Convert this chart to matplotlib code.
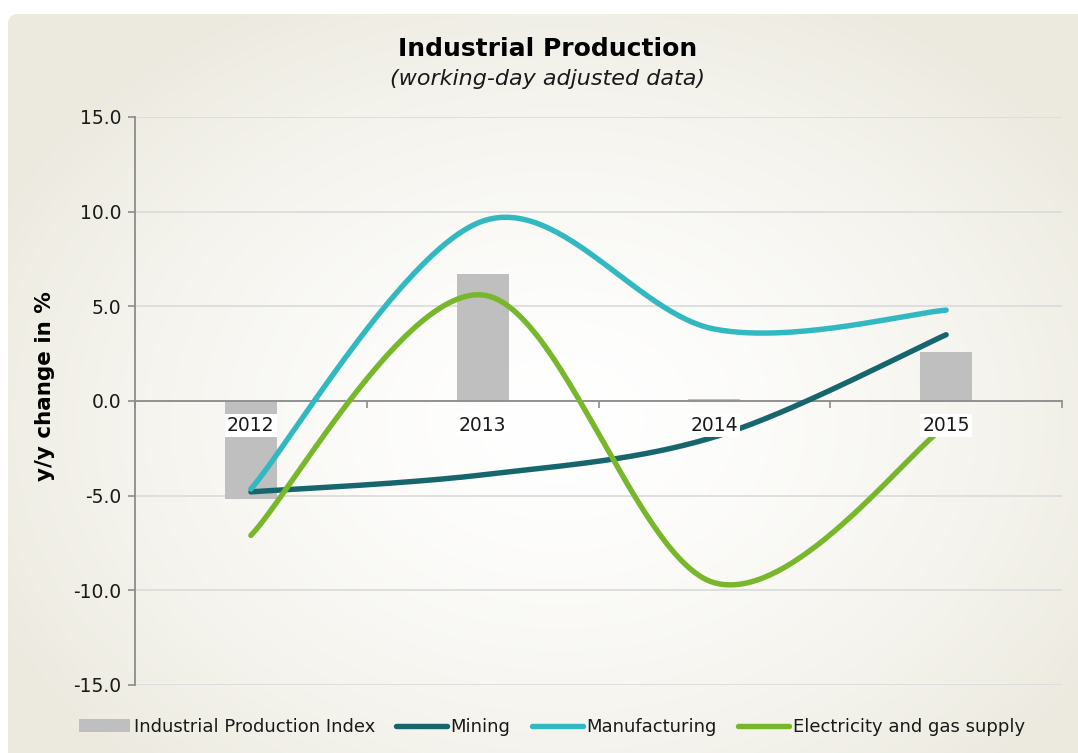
import numpy as np
import matplotlib
matplotlib.use("Agg")
import matplotlib.pyplot as plt
from matplotlib.patches import FancyBboxPatch
from matplotlib.lines import Line2D
from matplotlib.patches import Patch

# --- data -------------------------------------------------------------
years = ["2012", "2013", "2014", "2015"]
index_values = [-5.2, 6.7, 0.1, 2.6]            # Industrial Production Index
mining = [-4.8, -3.9, -1.9, 3.5]
manufacturing = [-4.65, 9.5, 3.8, 4.8]
electricity = [-7.1, 5.6, -9.6, -1.3]

y_ticks = [-15.0, -10.0, -5.0, 0.0, 5.0, 10.0, 15.0]

# --- style -------------------------------------------------------------
C_BAR = "#BFBFBF"
C_MIN = "#17666E"
C_MAN = "#32B8C1"
C_ELE = "#78B72B"
C_AXIS = "#8C8C8C"
C_GRID = "#DCDCDC"
LW = 3.9

W, H, DPI = 1078, 753, 100
plt.rcParams["font.family"] = ["DejaVu Sans"]


def smooth(xs, ys, n=60):
    """Bezier smoothing through every point (Catmull-Rom style tangents)."""
    xs = np.asarray(xs, float)
    ys = np.asarray(ys, float)
    px = np.concatenate([[xs[0]], xs, [xs[-1]]])
    py = np.concatenate([[ys[0]], ys, [ys[-1]]])
    out_x, out_y = [], []
    t = np.linspace(0, 1, n)
    for i in range(1, len(px) - 2):
        p0 = np.array([px[i], py[i]])
        p3 = np.array([px[i + 1], py[i + 1]])
        c1 = p0 + (np.array([px[i + 1], py[i + 1]]) - np.array([px[i - 1], py[i - 1]])) / 6
        c2 = p3 - (np.array([px[i + 2], py[i + 2]]) - np.array([px[i], py[i]])) / 6
        b = ((1 - t) ** 3)[:, None] * p0 + (3 * (1 - t) ** 2 * t)[:, None] * c1 \
            + (3 * (1 - t) * t ** 2)[:, None] * c2 + (t ** 3)[:, None] * p3
        out_x.append(b[:, 0] if i == 1 else b[1:, 0])
        out_y.append(b[:, 1] if i == 1 else b[1:, 1])
    return np.concatenate(out_x), np.concatenate(out_y)


fig = plt.figure(figsize=(W / DPI, H / DPI), dpi=DPI, facecolor="white")

# radial background panel with a rounded corner
bg = fig.add_axes([0, 0, 1, 1], zorder=-10)
bg.set_xlim(0, W)
bg.set_ylim(H, 0)
bg.axis("off")
gx, gy = np.meshgrid(np.arange(W), np.arange(H))
r = np.sqrt(((gx - 560) / 640.0) ** 2 + ((gy - 420) / 480.0) ** 2)
f = np.clip(r, 0, 1) ** 1.5
edge = np.array([236, 234, 223]) / 255.0
img = (1 - f)[..., None] * np.ones(3) + f[..., None] * edge
im = bg.imshow(img, extent=(0, W, H, 0), interpolation="bilinear", aspect="auto")
panel = FancyBboxPatch((8, 14), W + 30, H + 30,
                       boxstyle="round,pad=0,rounding_size=10",
                       transform=bg.transData, facecolor="none", edgecolor="none")
bg.add_patch(panel)
im.set_clip_path(panel)

# --- main axes ---------------------------------------------------------
ax = fig.add_axes([135 / W, 1 - 685 / H, (1062 - 135) / W, (685 - 117) / H])
ax.patch.set_alpha(0)

x = np.arange(len(years)) + 0.5
ax.bar(x, index_values, width=0.225, color=C_BAR, zorder=2)

for vals, col in [(mining, C_MIN), (manufacturing, C_MAN), (electricity, C_ELE)]:
    sx, sy = smooth(x, vals)
    ax.plot(sx, sy, color=col, lw=LW, solid_capstyle="round", zorder=3)

ax.set_xlim(0, len(years))
ax.set_ylim(-15, 15)
ax.set_yticks(y_ticks)
ax.set_yticklabels([f"{v:.1f}" for v in y_ticks], fontsize=13.5, color="#1a1a1a")
ax.yaxis.grid(True, color=C_GRID, lw=1.3, zorder=0)
ax.set_axisbelow(True)

for s in ("top", "right"):
    ax.spines[s].set_visible(False)
ax.spines["left"].set_color(C_AXIS)
ax.spines["left"].set_linewidth(1.3)
ax.spines["bottom"].set_position(("data", 0))
ax.spines["bottom"].set_color(C_AXIS)
ax.spines["bottom"].set_linewidth(1.3)
ax.spines["bottom"].set_zorder(2.6)
ax.tick_params(axis="y", direction="out", length=5, color=C_AXIS, width=1.2, pad=5)

# category boundaries as major ticks, year labels centred as minor ticks
ax.set_xticks(np.arange(len(years) + 1))
ax.set_xticklabels([])
ax.tick_params(axis="x", which="major", direction="out", length=5, color=C_AXIS, width=1.2)
ax.set_xticks(x, minor=True)
ax.set_xticklabels(years, minor=True, fontsize=13.5, color="#1a1a1a")
ax.tick_params(axis="x", which="minor", length=0, pad=11)
for lbl in ax.get_xticklabels(minor=True):
    lbl.set_bbox(dict(facecolor="white", edgecolor="none", pad=1.5))
ax.xaxis.set_zorder(5)

# --- titles ------------------------------------------------------------
fig.text(548 / W, 1 - 49 / H, "Industrial Production", ha="center", va="center",
         fontsize=18, fontweight="bold", color="black")
fig.text(548 / W, 1 - 79 / H, "(working-day adjusted data)", ha="center", va="center",
         fontsize=16, style="italic", color="#1a1a1a")
fig.text(45 / W, 1 - 386 / H, "y/y change in %", ha="center", va="center",
         rotation=90, fontsize=15.5, fontweight="bold", color="black")

# --- legend ------------------------------------------------------------
handles = [Patch(facecolor=C_BAR, edgecolor="none"),
           Line2D([], [], color=C_MIN, lw=LW, solid_capstyle="round"),
           Line2D([], [], color=C_MAN, lw=LW, solid_capstyle="round"),
           Line2D([], [], color=C_ELE, lw=LW, solid_capstyle="round")]
labels = ["Industrial Production Index", "Mining", "Manufacturing",
          "Electricity and gas supply"]
fig.legend(handles, labels, loc="center", bbox_to_anchor=(552 / W, 1 - 727 / H),
           ncol=4, frameon=False, fontsize=13, handlelength=2.8,
           handleheight=0.75, handletextpad=0.2, columnspacing=1.2,
           labelcolor="#1a1a1a")

fig.savefig("out.png", dpi=DPI, facecolor=fig.get_facecolor())
